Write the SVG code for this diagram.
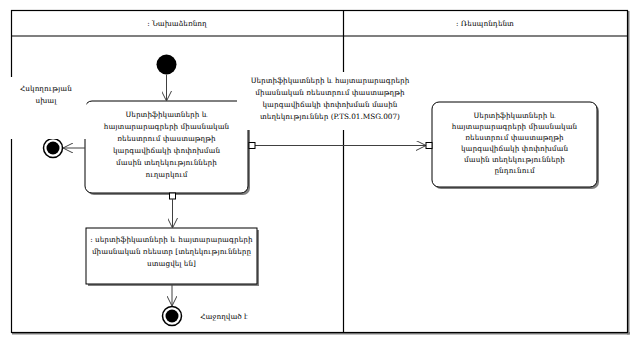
<svg xmlns="http://www.w3.org/2000/svg" width="640" height="347" viewBox="0 0 640 347">
<style>
text{font-family:"DejaVu Serif","Noto Serif",serif;font-size:7.3px;fill:#000;text-anchor:middle}
.box{fill:#fff;stroke:#000;stroke-width:1}
.shadow{fill:#808080}
.edge{fill:none;stroke:#404040;stroke-width:1}
.pin{fill:#fff;stroke:#000;stroke-width:1}
</style>
<defs>
<marker id="open" viewBox="0 0 10 10" refX="10" refY="5" markerWidth="10" markerHeight="10" markerUnits="userSpaceOnUse" orient="auto">
<path d="M0,0 L10,5 L0,10" fill="none" stroke="#404040" stroke-width="1"/>
</marker>
</defs>
<g id="lanes">
<rect class="shadow" x="12" y="332" width="618" height="2.5"/>
<rect class="shadow" x="627" y="11" width="2.5" height="323.5"/>
<rect x="11.5" y="10.5" width="616" height="322" fill="#fff" stroke="#000" stroke-width="1.2"/>
<line x1="11.5" y1="36" x2="627.5" y2="36" stroke="#000" stroke-width="1.2"/>
<line x1="343.5" y1="10.5" x2="343.5" y2="332.5" stroke="#000" stroke-width="1.2"/>
<text x="177" y="26">: Նախաձեռնող</text>
<text x="485" y="26">: Ռեսպոնդենտ</text>
</g>
<g id="start">
<circle cx="166.5" cy="64.5" r="10" fill="#000"/>
</g>
<g id="send">
<rect class="shadow" x="87" y="103" width="163" height="92" rx="7"/>
<rect class="box" x="85" y="101" width="163" height="92" rx="7"/>
<text x="166.5" y="117">Սերտիֆիկատների և</text>
<text x="166.5" y="129">հայտարարագրերի միասնական</text>
<text x="166.5" y="141">ռեեստրում փաստաթղթի</text>
<text x="166.5" y="153">կարգավիճակի փոփոխման</text>
<text x="166.5" y="165">մասին տեղեկությունների</text>
<text x="166.5" y="177">ուղարկում</text>
</g>
<g id="receive">
<rect class="shadow" x="434" y="104" width="165" height="85" rx="7"/>
<rect class="box" x="432" y="102" width="165" height="85" rx="7"/>
<text x="514.5" y="118">Սերտիֆիկատների և</text>
<text x="514.5" y="129">հայտարարագրերի միասնական</text>
<text x="514.5" y="140">ռեեստրում փաստաթղթի</text>
<text x="514.5" y="151">կարգավիճակի փոփոխման</text>
<text x="514.5" y="162">մասին տեղեկությունների</text>
<text x="514.5" y="173">ընդունում</text>
</g>
<g id="object">
<rect class="shadow" x="88" y="230" width="171" height="56"/>
<rect class="box" x="86" y="228" width="171" height="56"/>
<text x="171.5" y="242">: սերտիֆիկատների և հայտարարագրերի</text>
<text x="171.5" y="254">միասնական ռեեստր [տեղեկությունները</text>
<text x="171.5" y="266">ստացվել են]</text>
</g>
<g id="errorEnd">
<circle cx="53" cy="148" r="9.5" fill="#fff" stroke="#000" stroke-width="1.5"/>
<circle cx="53" cy="148" r="6.5" fill="#000"/>
</g>
<g id="successEnd">
<circle cx="172" cy="316" r="9.5" fill="#fff" stroke="#000" stroke-width="1.5"/>
<circle cx="172" cy="316" r="6.5" fill="#000"/>
</g>
<g id="connectors">
<line class="edge" x1="166.5" y1="74.5" x2="166.5" y2="101" marker-end="url(#open)"/>
<line class="edge" x1="85" y1="148" x2="63" y2="148" marker-end="url(#open)"/>
<line class="edge" x1="255" y1="145.5" x2="426" y2="145.5" marker-end="url(#open)"/>
<rect class="pin" x="249" y="142.5" width="6" height="6"/>
<rect class="pin" x="426" y="142.5" width="6" height="6"/>
<rect class="pin" x="169.5" y="193" width="6" height="6"/>
<line class="edge" x1="172.5" y1="199" x2="172.5" y2="228" marker-end="url(#open)"/>
<line class="edge" x1="172" y1="284" x2="172" y2="306" marker-end="url(#open)"/>
</g>
<g id="labels">
<rect x="4" y="77" width="82.5" height="62" fill="#fff"/>
<text x="46" y="91">Հսկողության</text>
<text x="46" y="103">սխալ</text>
<rect x="237" y="72" width="188" height="58" fill="#fff"/>
<text x="330" y="83">Սերտիֆիկատների և հայտարարագրերի</text>
<text x="330" y="95">միասնական ռեեստրում փաստաթղթի</text>
<text x="330" y="107">կարգավիճակի փոփոխման մասին</text>
<text x="330" y="119">տեղեկություններ (P.TS.01.MSG.007)</text>
<text x="224" y="319">Հաջողված է</text>
</g>
</svg>
